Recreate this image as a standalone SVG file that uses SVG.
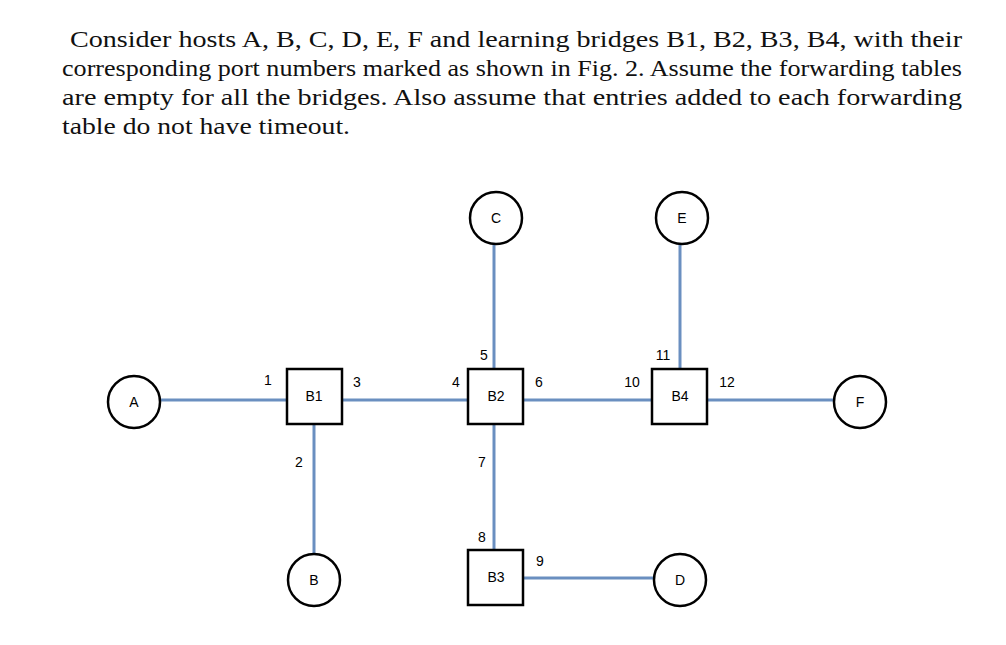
<svg xmlns="http://www.w3.org/2000/svg" width="1006" height="645" viewBox="0 0 1006 645">
<style>
.p{font-family:"Liberation Serif",serif;font-size:24px;fill:#111}
.n{fill:#fff;stroke:#000;stroke-width:2.5}
.l{font-family:"Liberation Sans",Arial,sans-serif;font-size:14px;fill:#000;text-anchor:middle}
.c{stroke:#6a8fc0;stroke-width:3;fill:none}
</style>
<rect width="1006" height="645" fill="#fff"/>
<text class="p" x="70" y="47" textLength="892" lengthAdjust="spacingAndGlyphs">Consider hosts A, B, C, D, E, F and learning bridges B1, B2, B3, B4, with their</text>
<text class="p" x="62" y="76" textLength="900" lengthAdjust="spacingAndGlyphs">corresponding port numbers marked as shown in Fig. 2. Assume the forwarding tables</text>
<text class="p" x="62" y="105" textLength="900" lengthAdjust="spacingAndGlyphs">are empty for all the bridges. Also assume that entries added to each forwarding</text>
<text class="p" x="62" y="134" textLength="288" lengthAdjust="spacingAndGlyphs">table do not have timeout.</text>
<g id="connectors">
<line class="c" x1="160" y1="400" x2="286" y2="400"/>
<line class="c" x1="342" y1="400" x2="468" y2="400"/>
<line class="c" x1="524" y1="400" x2="652" y2="400"/>
<line class="c" x1="708" y1="400" x2="834" y2="400"/>
<line class="c" x1="314" y1="424" x2="314" y2="554"/>
<line class="c" x1="494" y1="244" x2="494" y2="368"/>
<line class="c" x1="494" y1="424" x2="494" y2="550"/>
<line class="c" x1="524" y1="578" x2="654" y2="578"/>
<line class="c" x1="680" y1="244" x2="680" y2="368"/>
</g>
<g id="A"><circle class="n" cx="134" cy="402" r="26"/><text class="l" x="134" y="407">A</text></g>
<g id="B"><circle class="n" cx="314" cy="580" r="26"/><text class="l" x="314" y="585">B</text></g>
<g id="C"><circle class="n" cx="496" cy="218" r="26"/><text class="l" x="496" y="223">C</text></g>
<g id="D"><circle class="n" cx="680" cy="580" r="26"/><text class="l" x="680" y="585">D</text></g>
<g id="E"><circle class="n" cx="682" cy="218" r="26"/><text class="l" x="682" y="223">E</text></g>
<g id="F"><circle class="n" cx="860" cy="402" r="26"/><text class="l" x="860" y="407">F</text></g>
<g id="B1"><rect class="n" x="287" y="369" width="55" height="55"/><text class="l" x="314" y="401">B1</text></g>
<g id="B2"><rect class="n" x="468" y="369" width="55" height="55"/><text class="l" x="496" y="401">B2</text></g>
<g id="B4"><rect class="n" x="652" y="369" width="55" height="55"/><text class="l" x="680" y="401">B4</text></g>
<g id="B3"><rect class="n" x="468" y="550" width="55" height="55"/><text class="l" x="496" y="582">B3</text></g>
<g id="ports">
<text class="l" x="268" y="385">1</text>
<text class="l" x="357" y="387">3</text>
<text class="l" x="456" y="387">4</text>
<text class="l" x="539" y="387">6</text>
<text class="l" x="632" y="387">10</text>
<text class="l" x="727" y="387">12</text>
<text class="l" x="663" y="360">11</text>
<text class="l" x="484" y="360">5</text>
<text class="l" x="299" y="467">2</text>
<text class="l" x="482" y="467">7</text>
<text class="l" x="482" y="542">8</text>
<text class="l" x="540" y="566">9</text>
</g>
</svg>
